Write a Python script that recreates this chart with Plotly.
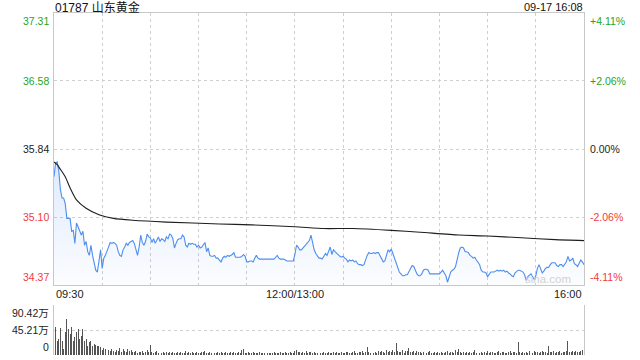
import plotly.graph_objects as go

# ---------------- data ----------------
title_text = "01787 山东黄金"
stamp_text = "09-17 16:08"
watermark = "sina.com"

price_ticks = [37.31, 36.58, 35.84, 35.10, 34.37]
pct_labels = ["+4.11%", "+2.06%", "0.00%", "-2.06%", "-4.11%"]
tick_colors = ["#1fa51f", "#1fa51f", "#222222", "#f03c3c", "#f03c3c"]

vol_ticks = [90.42, 45.21, 0]
vol_labels = ["90.42万", "45.21万", "0"]

time_labels = ["09:30", "12:00/13:00", "16:00"]
time_label_minute = [0, 150, 330]
grid_minutes = [0, 30, 60, 90, 120, 150, 180, 210, 240, 270, 300, 330]

# one price per trading minute from 09:30 (index 0) to 16:00 (index 330)
price = [
    35.54, 35.69, 35.70, 35.60, 35.40, 35.31, 35.31, 35.25, 35.09, 35.09,
    35.09, 34.95, 34.96, 34.82, 35.04, 35.00, 34.96, 34.91, 34.95, 34.80,
    34.84, 34.73, 34.69, 34.80, 34.69, 34.62, 34.53, 34.51, 34.62, 34.75,
    34.55, 34.66, 34.69, 34.73, 34.78, 34.83, 34.82, 34.83, 34.82, 34.80,
    34.73, 34.69, 34.68, 34.75, 34.78, 34.82, 34.80, 34.83, 34.84, 34.85,
    34.82, 34.75, 34.69, 34.78, 34.91, 34.83, 34.80, 34.84, 34.92, 34.89,
    34.88, 34.83, 34.87, 34.82, 34.86, 34.89, 34.84, 34.87, 34.86, 34.84,
    34.89, 34.87, 34.92, 34.91, 34.87, 34.77, 34.82, 34.86, 34.87, 34.87,
    34.91, 34.89, 34.80, 34.78, 34.82, 34.81, 34.82, 34.81, 34.81, 34.78,
    34.80, 34.77, 34.78, 34.80, 34.83, 34.73, 34.77, 34.69, 34.68, 34.68,
    34.69, 34.66, 34.66, 34.64, 34.62, 34.66, 34.68, 34.67, 34.69, 34.68,
    34.69, 34.70, 34.72, 34.67, 34.67, 34.67, 34.67, 34.68, 34.70, 34.68,
    34.62, 34.62, 34.63, 34.63, 34.62, 34.66, 34.69, 34.66, 34.65, 34.65,
    34.65, 34.65, 34.65, 34.65, 34.65, 34.65, 34.65, 34.65, 34.67, 34.69,
    34.66, 34.65, 34.65, 34.65, 34.64, 34.63, 34.63, 34.63, 34.63, 34.63,
    34.70, 34.80, 34.78, 34.75, 34.75, 34.77, 34.80, 34.82, 34.83, 34.85,
    34.91, 34.82, 34.75, 34.71, 34.68, 34.66, 34.66, 34.65, 34.68, 34.71,
    34.69, 34.74, 34.78, 34.70, 34.75, 34.73, 34.71, 34.69, 34.68, 34.67,
    34.68, 34.66, 34.65, 34.62, 34.64, 34.63, 34.64, 34.62, 34.63, 34.60,
    34.59, 34.59, 34.58, 34.59, 34.65, 34.69, 34.72, 34.71, 34.71, 34.72,
    34.71, 34.72, 34.72, 34.69, 34.65, 34.62, 34.63, 34.69, 34.75, 34.73,
    34.76, 34.71, 34.66, 34.60, 34.54, 34.51, 34.49, 34.47, 34.47, 34.48,
    34.48, 34.51, 34.55, 34.58, 34.57, 34.52, 34.49, 34.47, 34.47, 34.49,
    34.53, 34.54, 34.54, 34.53, 34.49, 34.49, 34.49, 34.49, 34.49, 34.49,
    34.49, 34.51, 34.53, 34.50, 34.47, 34.40, 34.47, 34.51, 34.53, 34.54,
    34.57, 34.65, 34.72, 34.77, 34.78, 34.77, 34.73, 34.73, 34.72, 34.69,
    34.68, 34.66, 34.67, 34.64, 34.62, 34.59, 34.53, 34.51, 34.51, 34.50,
    34.46, 34.49, 34.51, 34.51, 34.51, 34.52, 34.53, 34.52, 34.53, 34.52,
    34.53, 34.51, 34.52, 34.50, 34.49, 34.47, 34.46, 34.50, 34.52, 34.53,
    34.53, 34.52, 34.51, 34.48, 34.42, 34.46, 34.48, 34.49, 34.46, 34.43,
    34.47, 34.55, 34.59, 34.54, 34.50, 34.52, 34.55, 34.56, 34.56, 34.59,
    34.61, 34.61, 34.61, 34.58, 34.57, 34.59, 34.59, 34.57, 34.60, 34.62,
    34.68, 34.63, 34.64, 34.66, 34.60, 34.59, 34.57, 34.60, 34.64, 34.62,
    34.59,
]

# average-price line, read at selected minutes
avg_minute = [0, 2, 4, 7, 10, 14, 20, 28, 37, 49, 70, 103, 123, 150,
              168, 186, 210, 228, 252, 270, 291, 312, 330]
avg_price = [35.70, 35.67, 35.62, 35.54, 35.42, 35.29, 35.20, 35.13, 35.09,
             35.07, 35.05, 35.03, 35.02, 35.00, 34.98, 34.98, 34.96, 34.94,
             34.91, 34.90, 34.88, 34.86, 34.85]

# volume per minute, in 万 shares
volume = [
    89, 50, 26, 29, 49, 25, 10, 41, 66, 47, 38, 50, 25, 32, 41, 47, 29, 35, 47, 26,
    29, 17, 23, 26, 17, 20, 18, 17, 17, 14, 9,
    12, 10, 13, 9, 7, 11, 8, 6, 9, 7,
    12, 6, 10, 8, 5, 11, 7, 9, 6, 5,
    8, 4, 6, 5, 7, 4, 6, 9, 5, 18,
    6, 4, 5, 7, 3, 5, 4, 6, 3, 5,
    4, 6, 3, 5, 4, 3, 6, 4, 5, 3,
    4, 8, 3, 5, 4, 6, 3, 4, 5, 3,
    4, 6, 5, 7, 4, 3, 5, 4, 6, 3,
    4, 5, 3, 6, 4, 3, 5, 4, 3, 5,
    4, 6, 3, 4, 5, 3, 9, 10, 4, 3,
    5, 4, 3, 5, 4, 3, 4, 6, 3, 4,
    3, 5, 4, 3, 4, 3, 5, 4, 3, 4,
    5, 3, 4, 6, 3, 4, 5, 3, 4, 8,
    9, 5, 6, 4, 5, 3, 7, 4, 5, 6,
    4, 5, 3, 4, 5, 3, 4, 6, 3, 4,
    5, 4, 3, 6, 4, 5, 3, 4, 5, 3,
    4, 5, 6, 4, 3, 5, 7, 4, 3, 5,
    6, 8, 4, 5, 15, 6, 4, 5, 3, 6,
    4, 7, 5, 8, 6, 4, 9, 5, 7, 6,
    9, 5, 21, 8, 6, 5, 9, 4, 7, 8,
    12, 6, 5, 8, 4, 7, 5, 6, 4, 5,
    6, 4, 5, 7, 4, 3, 5, 4, 6, 4,
    5, 4, 3, 5, 7, 4, 6, 5, 4, 9,
    6, 10, 5, 4, 6, 3, 5, 4, 6, 4,
    5, 9, 4, 5, 3, 6, 4, 5, 3, 7,
    4, 5, 6, 3, 4, 5, 7, 4, 5, 6,
    4, 3, 5, 7, 4, 6, 5, 4, 23, 6,
    4, 5, 3, 6, 4, 7, 5, 4, 8, 5,
    6, 4, 5, 8, 6, 5, 4, 17, 6, 5,
    7, 4, 6, 5, 8, 4, 6, 5, 7, 26,
    6, 5, 7, 6, 8, 5, 6, 7, 9, 64,
]

# ---------------- figure ----------------
FONT = "Liberation Sans, Arial, Noto Sans CJK SC, sans-serif"
GRID = "#cfcfcf"
BORDER = "#c8c8c8"

price_minutes = list(range(len(price)))
vol_minutes = list(range(len(volume)))
x_range = [time_label_minute[0], time_label_minute[-1]]

fig = go.Figure()

# baseline at the axis floor so the area fill stops at the bottom of the panel
fig.add_trace(go.Scatter(
    x=price_minutes, y=[price_ticks[-1]] * len(price),
    mode="lines", line=dict(width=0), hoverinfo="skip", showlegend=False,
))
fig.add_trace(go.Scatter(
    x=price_minutes, y=price, mode="lines",
    line=dict(color="#4d8ef0", width=1.1),
    fill="tonexty",
    fillgradient=dict(
        type="vertical",
        start=price_ticks[-1], stop=price_ticks[2],
        colorscale=[[0, "rgba(77,142,240,0.02)"], [1, "rgba(77,142,240,0.20)"]],
    ),
    hoverinfo="skip", showlegend=False,
))
fig.add_trace(go.Scatter(
    x=avg_minute, y=avg_price, mode="lines",
    line=dict(color="#1e1e1e", width=1.1, shape="spline", smoothing=0.6),
    hoverinfo="skip", showlegend=False,
))
fig.add_trace(go.Bar(
    x=vol_minutes, y=volume, width=0.6,
    marker=dict(color="#555555", line=dict(width=0)),
    xaxis="x2", yaxis="y2", hoverinfo="skip", showlegend=False,
))

H_PLOT = 360 - 13 - 5
main_bottom = (355 - 285) / H_PLOT
vol_top = (355 - 305) / H_PLOT

fig.update_layout(
    width=640, height=360,
    margin=dict(l=54, r=56, t=13, b=5),
    paper_bgcolor="white", plot_bgcolor="white",
    showlegend=False, hovermode=False, bargap=0,
    font=dict(family=FONT, size=11, color="#222"),
    xaxis=dict(
        domain=[0, 1], range=x_range, anchor="y",
        tickvals=grid_minutes, showticklabels=False, ticks="",
        showgrid=True, gridcolor=GRID, griddash="dot", gridwidth=1,
        showline=True, linecolor=BORDER, linewidth=1, mirror=True,
        zeroline=False, fixedrange=True,
    ),
    yaxis=dict(
        domain=[main_bottom, 1], range=[price_ticks[-1], price_ticks[0]],
        tickvals=price_ticks[1:-1], showticklabels=False, ticks="",
        showgrid=True, gridcolor=GRID, griddash="dot", gridwidth=1,
        showline=True, linecolor=BORDER, linewidth=1, mirror=True,
        zeroline=False, fixedrange=True,
    ),
    xaxis2=dict(
        domain=[0, 1], range=x_range, anchor="y2",
        showticklabels=False, ticks="", showgrid=False,
        showline=False, zeroline=False, fixedrange=True,
    ),
    yaxis2=dict(
        domain=[0, vol_top], range=[0, vol_ticks[0]], anchor="x2",
        tickvals=vol_ticks[:2], showticklabels=False, ticks="",
        showgrid=True, gridcolor=GRID, griddash="dot", gridwidth=1,
        showline=True, linecolor=BORDER, linewidth=1, mirror=True,
        zeroline=False, fixedrange=True,
    ),
)

ann = []
# title and timestamp (centred in the 13 px strip above the chart)
ann.append(dict(text=title_text, xref="paper", yref="paper", x=0, y=1,
                xanchor="left", yanchor="middle", yshift=6, xshift=0,
                borderpad=0, showarrow=False, font=dict(size=12, color="#111")))
ann.append(dict(text=stamp_text, xref="paper", yref="paper", x=1, y=1,
                xanchor="right", yanchor="middle", yshift=6,
                borderpad=0, showarrow=False, font=dict(size=11, color="#111")))

# price / percent labels
n = len(price_ticks)
for i, (v, pl, c) in enumerate(zip(price_ticks, pct_labels, tick_colors)):
    ya = "top" if i == 0 else ("bottom" if i == n - 1 else "middle")
    ann.append(dict(text=f"{v:.2f}", xref="x domain", yref="y", x=0, y=v,
                    xanchor="right", yanchor=ya, xshift=-3, showarrow=False,
                    font=dict(size=10.5, color=c)))
    ann.append(dict(text=pl, xref="x domain", yref="y", x=1, y=v,
                    xanchor="left", yanchor=ya, xshift=4, showarrow=False,
                    font=dict(size=10.5, color=c)))

# volume labels
for i, (v, lab) in enumerate(zip(vol_ticks, vol_labels)):
    ya = "top" if i == 0 else ("bottom" if i == len(vol_ticks) - 1 else "middle")
    ann.append(dict(text=lab, xref="x2 domain", yref="y2", x=0, y=v,
                    xanchor="right", yanchor=ya, xshift=-3, showarrow=False,
                    font=dict(size=10.5, color="#222")))

# time labels
for i, (lab, m) in enumerate(zip(time_labels, time_label_minute)):
    xa = "left" if i == 0 else ("right" if i == len(time_labels) - 1 else "center")
    ann.append(dict(text=lab, xref="x", yref="y domain", x=m, y=0,
                    xanchor=xa, yanchor="top", yshift=-1, showarrow=False,
                    font=dict(size=11, color="#222")))

# watermark
ann.append(dict(text=watermark, xref="x domain", yref="y domain", x=0.98, y=0.022,
                xanchor="right", yanchor="middle", showarrow=False,
                font=dict(size=11.5, color="#d2d2d2")))

fig.update_layout(annotations=ann)

fig.write_html(
    "out.html",
    config={"displayModeBar": False, "staticPlot": True},
    post_script="document.body.style.margin='0';document.body.style.overflow='hidden';",
)
